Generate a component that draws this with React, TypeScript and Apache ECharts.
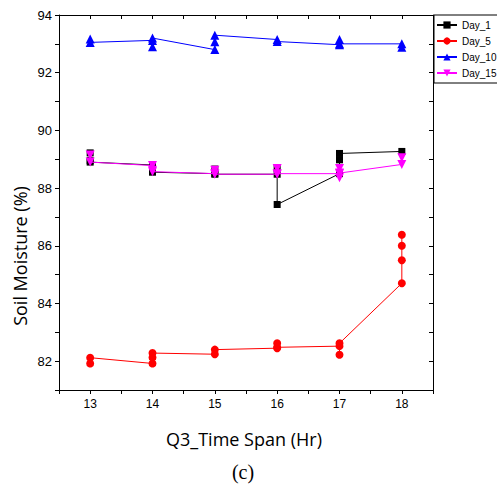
import React, { useEffect, useRef } from 'react';
import * as echarts from 'echarts';

const seriesNames = ['Day_1', 'Day_5', 'Day_10', 'Day_15'];

const day1X = [13, 13, 13, 14, 14, 15, 15, 15, 16, 16, 16, 17, 17, 17, 18];
const day1Y = [89.22, 88.95, 88.9, 88.8, 88.55, 88.5, 88.66, 88.48, 88.48, 88.7, 87.43, 88.5, 88.98, 89.2, 89.27];

const day5X = [13, 13, 14, 14, 14, 15, 15, 16, 16, 16, 17, 17, 17, 18, 18, 18, 18];
const day5Y = [81.92, 82.12, 81.92, 82.13, 82.28, 82.24, 82.4, 82.45, 82.62, 82.48, 82.52, 82.22, 82.62, 84.7, 85.5, 86.0, 86.38];

const day10X = [13, 13, 14, 14, 14, 15, 15, 15, 16, 16, 17, 17, 17, 18, 18];
const day10Y = [93.17, 93.05, 93.12, 92.9, 93.2, 92.8, 93.07, 93.3, 93.15, 93.08, 92.97, 93.15, 93.0, 93.0, 92.88];

const day15X = [13, 13, 14, 14, 14, 15, 15, 15, 16, 16, 16, 17, 17, 17, 17, 18, 18];
const day15Y = [89.15, 88.9, 88.78, 88.62, 88.57, 88.5, 88.62, 88.48, 88.48, 88.68, 88.5, 88.5, 88.68, 88.36, 88.52, 88.82, 89.05];

const xTickLabels = [13, 14, 15, 16, 17, 18];
const yTickLabels = [82, 84, 86, 88, 90, 92, 94];

const colors = ['#000000', '#ff0000', '#0000ff', '#ff00ff'];

const pair = (xs: number[], ys: number[]) => xs.map((x, i) => [x, ys[i]]);

export default function App() {
  const ref = useRef<HTMLDivElement>(null);
  useEffect(() => {
    const chart = echarts.init(ref.current!, null, { renderer: 'svg' });
    const font = 'Liberation Sans';
    const baseX = {
      type: 'value',
      min: 12.5,
      max: 18.5,
      interval: 0.5,
      splitLine: { show: false },
      axisLine: { show: true, onZero: false, lineStyle: { color: '#000', width: 1 } },
    };
    const baseY = {
      type: 'value',
      min: 81,
      max: 94,
      interval: 1,
      splitLine: { show: false },
      axisLine: { show: true, onZero: false, lineStyle: { color: '#000', width: 1 } },
    };
    const datasets = [pair(day1X, day1Y), pair(day5X, day5Y), pair(day10X, day10Y), pair(day15X, day15Y)];
    const symbols = ['rect', 'circle', 'triangle', 'triangle'];
    const sizes = [7, 8, 9, 9];
    const rotates = [0, 0, 0, 180];
    chart.setOption({
      animation: false,
      backgroundColor: '#fff',
      grid: { left: 59, right: 64, top: 15, bottom: 96 },
      xAxis: [
        {
          ...baseX,
          position: 'bottom',
          axisTick: { show: true, inside: false, length: 4, lineStyle: { color: '#000' } },
          axisLabel: {
            show: true,
            margin: 8,
            color: '#000',
            fontSize: 12,
            fontFamily: font,
            formatter: (v: number) => (xTickLabels.includes(v) ? String(v) : ''),
          },
        },
        {
          ...baseX,
          position: 'top',
          axisTick: { show: true, inside: true, length: 4, lineStyle: { color: '#000' } },
          axisLabel: { show: false },
        },
      ],
      yAxis: [
        {
          ...baseY,
          position: 'left',
          axisTick: { show: true, inside: false, length: 4, lineStyle: { color: '#000' } },
          axisLabel: {
            show: true,
            margin: 7,
            color: '#000',
            fontSize: 13,
            fontFamily: font,
            formatter: (v: number) => (yTickLabels.includes(v) ? String(v) : ''),
          },
        },
        {
          ...baseY,
          position: 'right',
          axisTick: { show: true, inside: true, length: 4, lineStyle: { color: '#000' } },
          axisLabel: { show: false },
        },
      ],
      legend: {
        orient: 'vertical',
        left: 434,
        top: 15,
        itemWidth: 20,
        itemHeight: 9,
        itemGap: 2,
        padding: [3, 10, 3, 2],
        borderColor: '#000',
        borderWidth: 1,
        textStyle: { color: '#000', fontSize: 10, fontFamily: font, lineHeight: 14 },
        data: seriesNames,
      },
      graphic: [
        {
          type: 'text',
          x: 20,
          y: 256,
          rotation: Math.PI / 2,
          style: { text: 'Soil Moisture (%)', fill: '#000', fontSize: 18, fontFamily: 'Open Sans', align: 'center', verticalAlign: 'middle' },
        },
        {
          type: 'text',
          x: 244,
          y: 439,
          style: { text: 'Q3_Time Span (Hr)', fill: '#000', fontSize: 18, fontFamily: 'Open Sans', align: 'center', verticalAlign: 'middle' },
        },
        {
          type: 'text',
          x: 243,
          y: 472,
          style: { text: '(c)', fill: '#000', fontSize: 20, fontFamily: 'Liberation Serif', align: 'center', verticalAlign: 'middle' },
        },
      ],
      series: seriesNames.map((name, i) => ({
        name,
        type: 'line',
        xAxisIndex: 0,
        yAxisIndex: 0,
        data: datasets[i],
        symbol: symbols[i],
        symbolSize: sizes[i],
        symbolRotate: rotates[i],
        showAllSymbol: true,
        color: colors[i],
        itemStyle: { color: colors[i] },
        lineStyle: { color: colors[i], width: 1 },
        z: 2 + i,
      })),
    });
    return () => chart.dispose();
  }, []);
  return (
    <div
      ref={ref}
      style={{ position: 'absolute', left: 0, top: 0, width: 497, height: 486, background: '#fff' }}
    />
  );
}
